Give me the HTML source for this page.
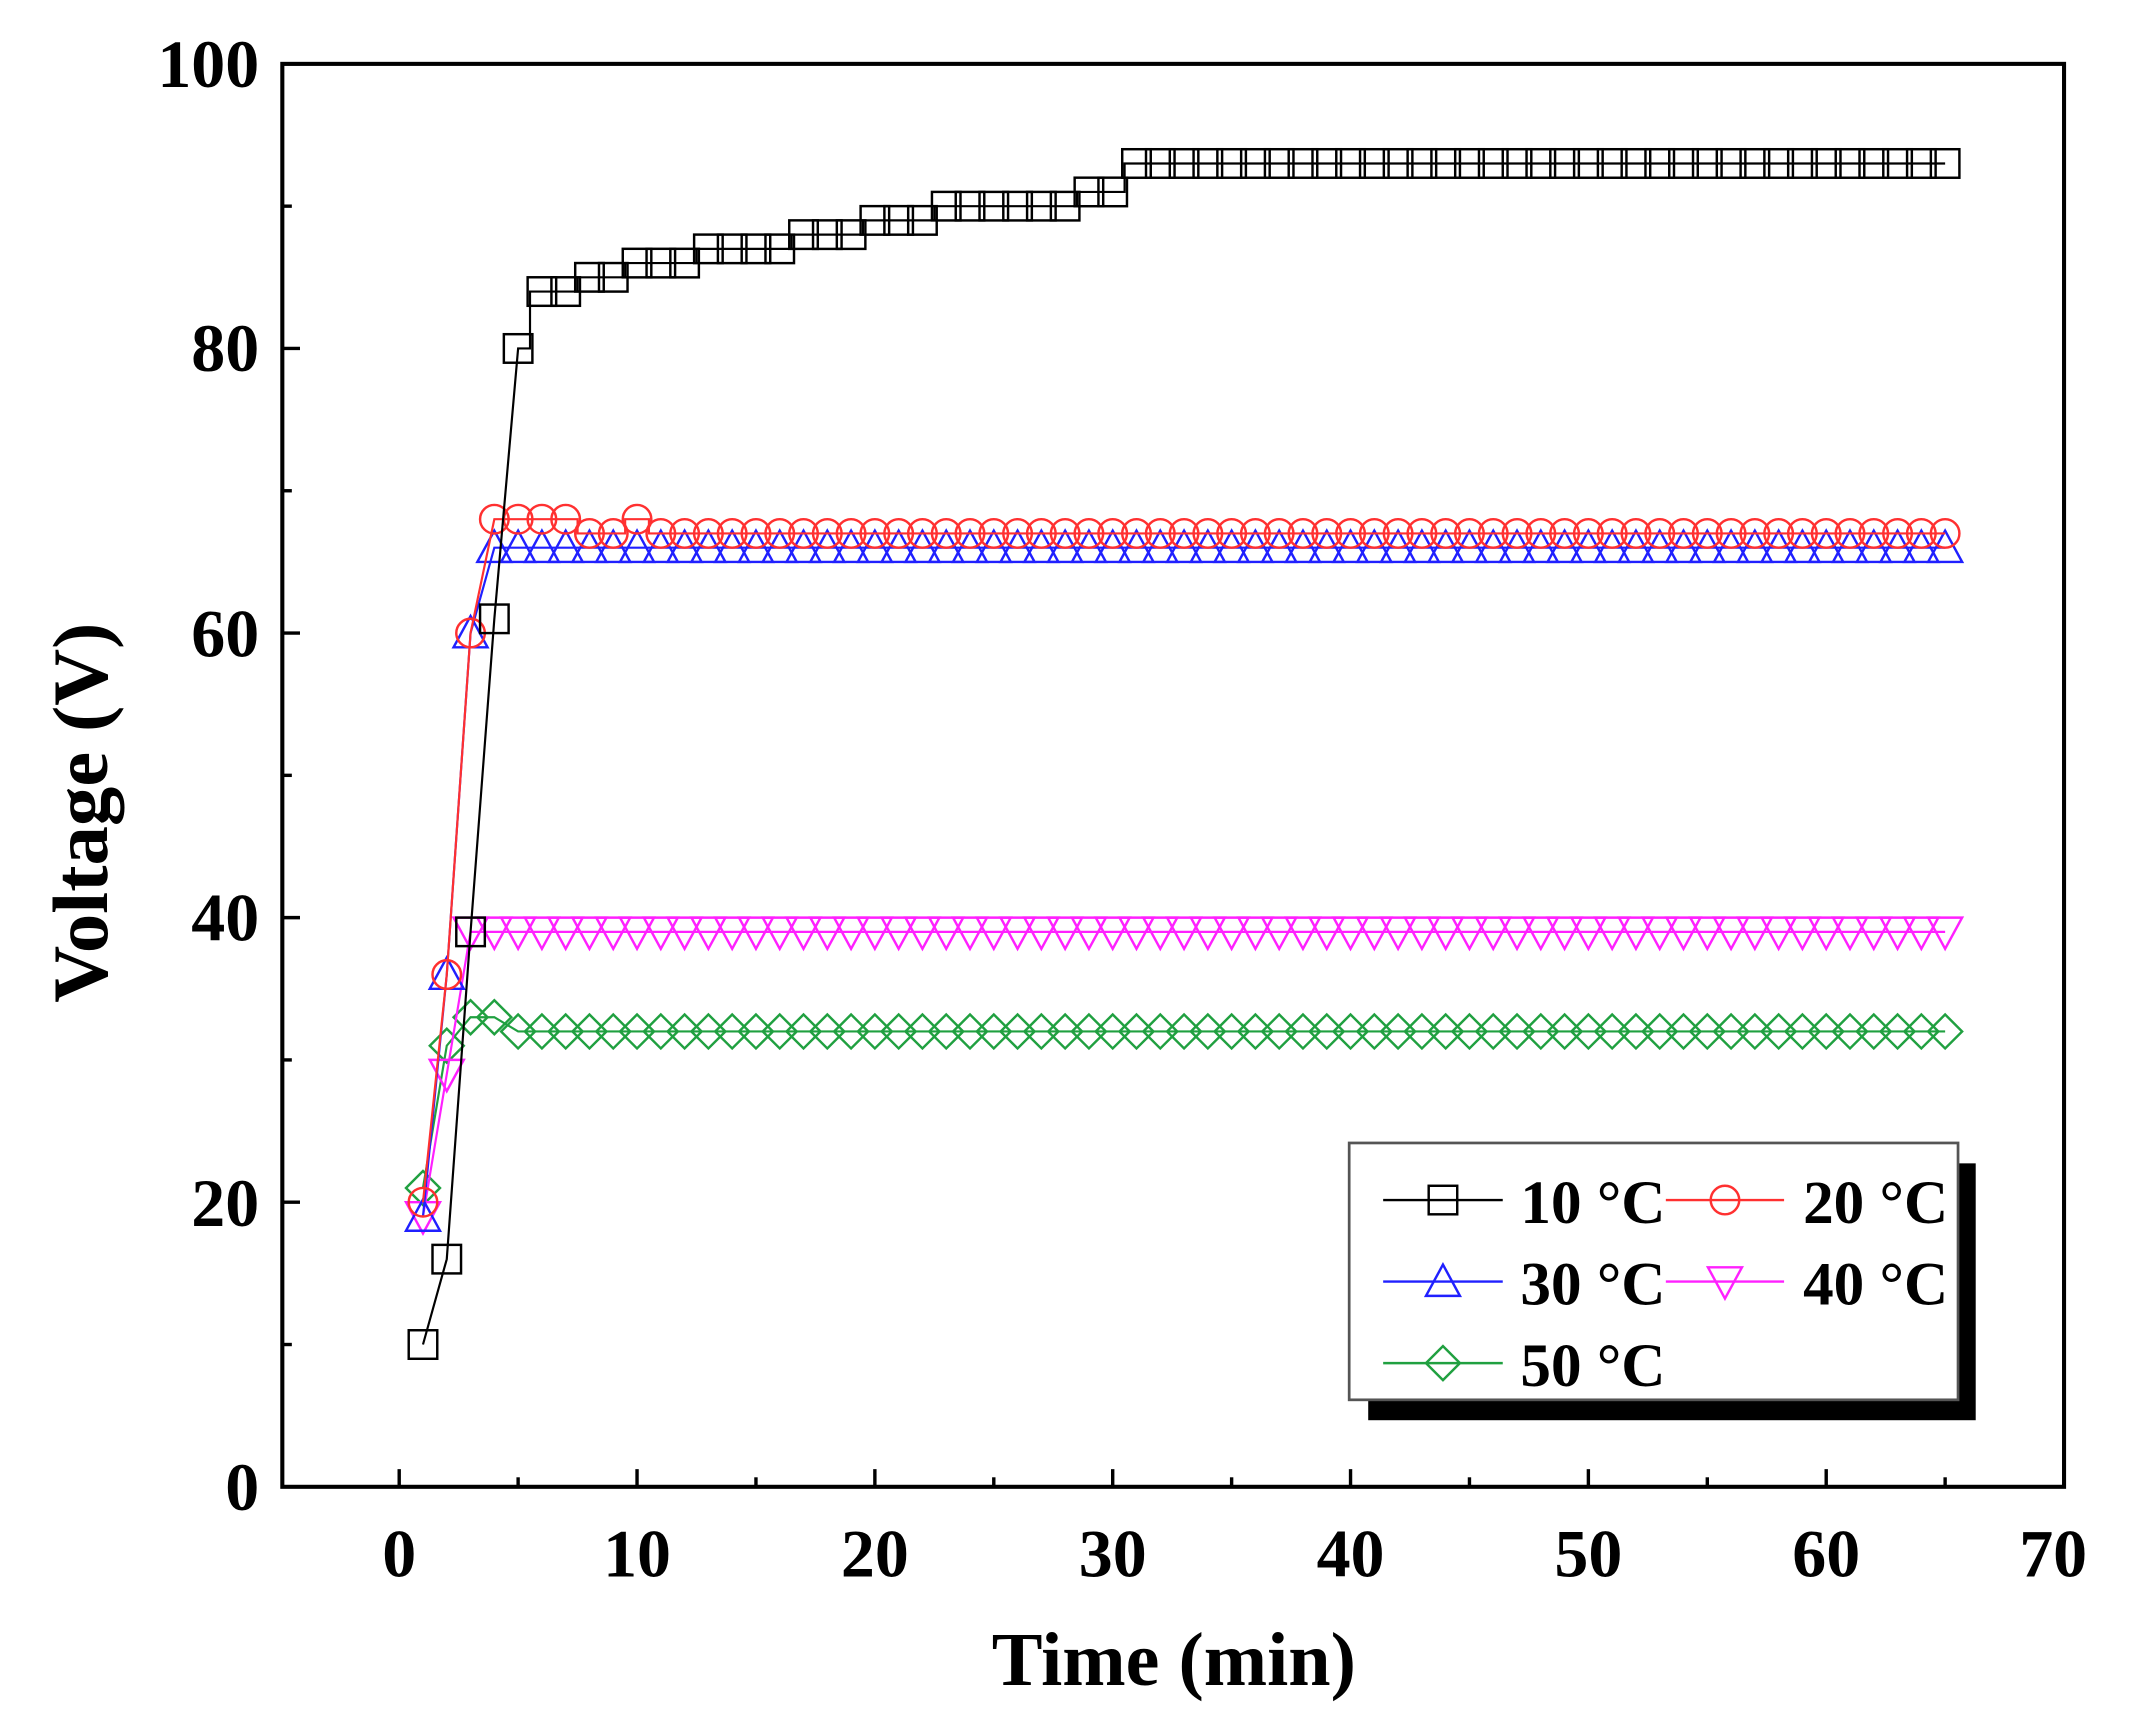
<!DOCTYPE html>
<html><head><meta charset="utf-8"><style>
html,body{margin:0;padding:0;background:#fff}
svg{display:block}
text{font-family:"Liberation Serif",serif;font-weight:bold;fill:#000}
</style></head><body>
<svg id="s" width="2133" height="1726" viewBox="0 0 1568 1270" xmlns="http://www.w3.org/2000/svg">
<rect width="1568" height="1270" fill="#fff"/>
<g id="plot"></g>
<rect x="207" y="47" width="1311" height="1047" fill="none" stroke="#000" stroke-width="3"/>
<g id="ticks" stroke="#000" stroke-width="2.5"></g>
<g font-size="50" text-anchor="middle">
<text x="293" y="1160">0</text><text x="468" y="1160">10</text><text x="643" y="1160">20</text>
<text x="818" y="1160">30</text><text x="993" y="1160">40</text><text x="1168" y="1160">50</text>
<text x="1343" y="1160">60</text><text x="1510" y="1160">70</text>
</g>
<g font-size="50" text-anchor="end">
<text x="190" y="1111">0</text><text x="190" y="902">20</text><text x="190" y="692">40</text>
<text x="190" y="483">60</text><text x="190" y="273">80</text><text x="190" y="64">100</text>
</g>
<text x="863" y="1240" font-size="56" text-anchor="middle">Time (min)</text>
<text transform="translate(78,598) rotate(-90)" font-size="58" text-anchor="middle">Voltage (V)</text>
<rect x="1006" y="856" width="447" height="189" fill="#000"/>
<rect x="992" y="841" width="448" height="189" fill="#fff" stroke="#555" stroke-width="2"/>
<g id="leg"></g>
<g font-size="45">
<text x="1118" y="900">10 °C</text><text x="1326" y="900">20 °C</text>
<text x="1118" y="960">30 °C</text><text x="1326" y="960">40 °C</text>
<text x="1118" y="1020">50 °C</text>
</g>
</svg>
<script>
const NS="http://www.w3.org/2000/svg";
const X=t=>293+17.5*t, Y=v=>1094-10.47*v;
function el(p,n,a){const e=document.createElementNS(NS,n);for(const k in a)e.setAttribute(k,a[k]);p.appendChild(e);return e;}
const tk=document.getElementById('ticks');
for(let t=0;t<=70;t+=5){const L=t%10?7:13;el(tk,'line',{x1:X(t),x2:X(t),y1:1094,y2:1094-L});}
for(let v=0;v<=100;v+=10){const L=v%20?7:13;el(tk,'line',{x1:207,x2:207+L,y1:Y(v),y2:Y(v)});}
function arr(base,len,fill){const a=base.slice();while(a.length<len)a.push(fill);return a;}
const d10=[10,16,39,61,80,84,84,85,85,86,86,86,87,87,87,87,88,88,88,89,89,89,90,90,90,90,90,90,91,91];
const S=[
 {c:'#000',m:'sq',v:arr(d10,65,93)},
 {c:'#ff3030',m:'ci',v:arr([20,36,60,68,68,68,68,67,67,68],65,67)},
 {c:'#2020ff',m:'tu',v:arr([19,36,60],65,66)},
 {c:'#ff20ff',m:'td',v:arr([19,29,39],65,39)},
 {c:'#20a040',m:'di',v:arr([21,31,33,33],65,32)}
];
function marker(g,m,x,y,c){const r=10.5,a={fill:'none',stroke:c,'stroke-width':1.8};
 if(m=='sq')el(g,'rect',Object.assign({x:x-r,y:y-r,width:2*r,height:2*r},a));
 else if(m=='ci')el(g,'circle',Object.assign({cx:x,cy:y,r:r},a));
 else if(m=='tu')el(g,'polygon',Object.assign({points:`${x},${y-r-2} ${x+r+2},${y+r} ${x-r-2},${y+r}`},a));
 else if(m=='td')el(g,'polygon',Object.assign({points:`${x},${y+r+2} ${x+r+2},${y-r} ${x-r-2},${y-r}`},a));
 else el(g,'polygon',Object.assign({points:`${x},${y-r-2} ${x+r+2},${y} ${x},${y+r+2} ${x-r-2},${y}`},a));}
const pg=document.getElementById('plot');
for(const s of [...S].reverse()){
 let d='';s.v.forEach((v,i)=>{const x=X(i+1),y=Y(v);
  if(i==0)d+=`M${x},${y}`;else{const pv=s.v[i-1];if(i>=5){const xm=X(i+0.5);d+=`L${xm},${Y(pv)}L${xm},${y}L${x},${y}`;}else d+=`L${x},${y}`;}});
 el(pg,'path',{d:d,fill:'none',stroke:s.c,'stroke-width':1.6});
 s.v.forEach((v,i)=>marker(pg,s.m,X(i+1),Y(v),s.c));
}
const lg=document.getElementById('leg');
const pos=[[1017,1105,883],[1225,1312,883],[1017,1105,943],[1225,1312,943],[1017,1105,1003]];
S.forEach((s,i)=>{const [a,b,y]=pos[i];el(lg,'line',{x1:a,x2:b,y1:y,y2:y,stroke:s.c,'stroke-width':1.8});marker(lg,s.m,(a+b)/2,y,s.c);});
</script>
</body></html>
